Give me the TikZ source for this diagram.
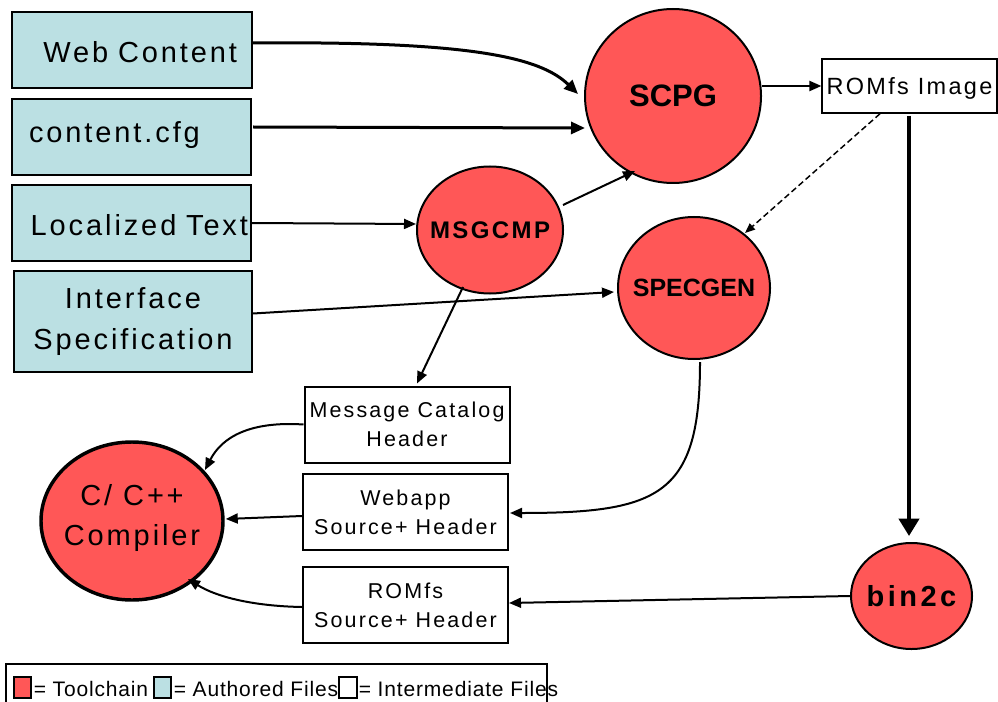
\documentclass[tikz,border=0pt]{standalone}
\usepackage{fontspec}
\setmainfont{Liberation Sans}
\newfontfamily\widefont[LetterSpace=10]{Liberation Sans}
\newfontfamily\legfont[LetterSpace=4]{Liberation Sans}
\newfontfamily\boldwide[LetterSpace=10]{Liberation Sans}
\newfontfamily\boldwider[LetterSpace=12]{Liberation Sans}
\usetikzlibrary{shapes.geometric,arrows.meta,calc}

\definecolor{toolred}{RGB}{255,87,87}
\definecolor{authblue}{RGB}{187,224,227}

% zero-width wrapper so the ellipse keeps its given size
\newcommand{\zw}[1]{\makebox[0pt][c]{#1}}

\tikzset{
  authored/.style={draw, line width=1.5pt, fill=authblue, inner ysep=0pt,
    minimum height=57pt, font=\widefont\fontsize{21.75}{30.75}\selectfont},
  tool/.style={ellipse, draw, line width=1.5pt, fill=toolred, inner sep=0pt},
  interm/.style={draw, line width=1.5pt, fill=white, inner sep=0pt, align=center,
    minimum width=153.75pt, minimum height=57pt,
    font=\widefont\fontsize{16.1}{21.75}\selectfont},
  thinarrow/.style={line width=1.5pt, -{Triangle[length=9pt,width=7.5pt]}},
  thickarrow/.style={line width=2.25pt, -{Triangle[length=10.5pt,width=9pt]}},
  bigarrow/.style={line width=3pt, -{Triangle[length=13pt,width=15pt]}},
  dasharrow/.style={line width=1.1pt, dash pattern=on 4.5pt off 2.5pt,
    -{Triangle[length=7.5pt,width=6pt]}},
  legsq/.style={draw, line width=1.5pt, minimum width=13.4pt, minimum height=15.75pt, inner sep=0pt},
  legtext/.style={inner sep=0pt, anchor=base west, font=\legfont\fontsize{15.75}{18}\selectfont},
}

\begin{document}
\begin{tikzpicture}[x=0.75pt,y=-0.75pt]
\useasboundingbox (0,0) rectangle (998,702);

% authored input files
\node[authored, text width=157.5pt, inner xsep=11.25pt, align=right,
      text height=19.5pt, text depth=0pt] (web) at (132,50) {Web Content};
\node[authored, text width=153.75pt, inner xsep=12.75pt, align=left,
      text height=9pt, text depth=0pt] (cfg) at (131.5,137) {content.cfg};
\node[authored, text width=174.75pt, inner xsep=2.25pt, align=right,
      text height=18pt, text depth=0pt] (loc) at (131.5,223) {Localized Text};
\node[authored, align=center, inner xsep=0pt, minimum width=178.5pt, minimum height=75.75pt]
      (iface) at (133,321.5) {Interface\\Specification};

% toolchain
\node[tool, minimum width=132pt, minimum height=130.5pt,
      font=\bfseries\fontsize{23.25}{28}\selectfont] (scpg) at (673,96) {\zw{SCPG}};
\node[tool, minimum width=109.5pt, minimum height=95.25pt,
      font=\boldwide\bfseries\fontsize{18}{22}\selectfont] (msg) at (490,230) {\zw{MSGCMP}};
\node[tool, minimum width=114pt, minimum height=106.5pt,
      font=\bfseries\fontsize{18.75}{22}\selectfont] (spec) at (694,288) {\zw{SPECGEN}};
\node[tool, line width=2.6pt, minimum width=136.5pt, minimum height=118.5pt,
      text height=36pt, text depth=0pt,
      font=\widefont\fontsize{21.75}{30}\selectfont] (comp) at (132,521)
      {\zw{\begin{tabular}[b]{@{}c@{}}C/ C+\kern2pt+\\Compiler\end{tabular}}};
\node[tool, minimum width=90.75pt, minimum height=79.5pt,
      font=\boldwider\bfseries\fontsize{21.75}{26}\selectfont] (bin) at (911.5,596) {\zw{bin2c}};

% intermediate files
\node[draw, line width=1.1pt, fill=white, inner sep=0pt, minimum width=131pt, minimum height=40.5pt,
      text height=13.5pt, text depth=0pt, font=\widefont\fontsize{17.6}{21}\selectfont]
      (rom) at (909.5,86) {ROMfs Image};
\node[interm] (mch) at (407,424.5) {Message Catalog\\Header};
\node[interm] (webapp) at (405.5,512) {Webapp\\Source+ Header};
\node[interm] (roms) at (405.5,605) {ROMfs\\Source+ Header};

% connectors
\draw[thickarrow] ($(web.east)+(0,-7)$) .. controls (470,41) and (540,57) .. ($(scpg.center)+(-95,-2)$);
\draw[thickarrow] ($(cfg.east)+(1,-10)$) -- ($(scpg.center)+(-88,32)$);
\draw[thinarrow] (loc.east) -- ($(msg.west)+(0,-6)$);
\draw[thinarrow] ($(iface.east)+(0,-8)$) -- ($(spec.west)+(-3,4)$);
\draw[thinarrow] ($(msg.center)+(73,-25)$) -- ($(scpg.center)+(-38,75)$);
\draw[thinarrow] ($(msg.center)+(-27,57)$) -- ($(mch.north)+(10,-2)$);
\draw[thinarrow] ($(scpg.center)+(89,-10)$) -- (rom.west);
\draw[bigarrow] ($(rom.south)+(-0.5,2)$) -- ($(bin.north)+(-2.5,-6)$);
\draw[dasharrow] ($(rom.south)+(-29.5,0)$) -- ($(spec.center)+(51,-55)$);
\draw[thinarrow] ($(spec.south)+(6,2)$) .. controls (700,495) and (660,513) .. ($(webapp.east)+(1,1)$);
\draw[thinarrow] (bin.west) -- ($(roms.east)+(0,-2)$);
\draw[thinarrow] (mch.west) .. controls (250,421) and (222,437) .. ($(comp.center)+(73,-51)$);
\draw[thinarrow] ($(webapp.west)+(0,4)$) -- ($(comp.east)+(1,-2)$);
\draw[thinarrow] ($(roms.west)+(0,2)$) .. controls (250,606) and (215,596) .. ($(comp.center)+(56,58)$);

% legend
\node[draw, line width=1.1pt, minimum width=405.75pt, minimum height=36pt, inner sep=0pt]
      (legend) at (276.5,688) {};
\node[legsq, fill=toolred] (lgtool) at (22.5,687.5) {};
\node[legtext] (lgtooltext) at (33.5,696.4) {= Toolchain};
\node[legsq, fill=authblue] (lgauth) at (162.5,687.5) {};
\node[legtext] (lgauthtext) at (173.5,696.4) {= Authored Files};
\node[legsq, fill=white] (lginter) at (348,687.5) {};
\node[legtext] (lgintertext) at (358.5,696.4) {= Intermediate Files};
\end{tikzpicture}
\end{document}
